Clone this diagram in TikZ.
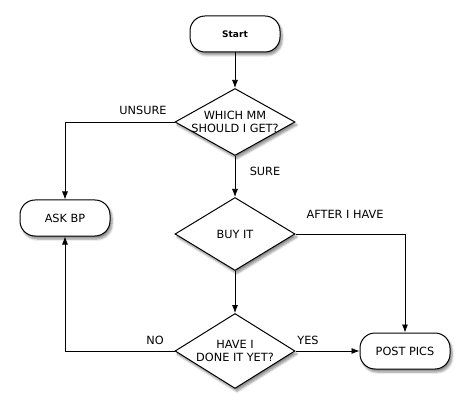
\documentclass[tikz,border=0pt]{standalone}
\usepackage{fontspec}
\setmainfont{DejaVu Sans}
\usetikzlibrary{shapes.geometric,arrows.meta,shadows.blur}

\begin{document}
\begin{tikzpicture}[x=1pt,y=-1pt,font=\fontsize{11.3}{13}\selectfont,
		shade/.style={blur shadow={shadow xshift=2pt,shadow yshift=-3pt,shadow opacity=45,shadow blur steps=6}},
		term/.style={draw,fill=white,rounded corners=15pt,minimum width=90pt,minimum height=36pt,line width=1pt,shade},
		decision/.style={draw,fill=white,diamond,aspect=1.8,minimum width=120pt,minimum height=67pt,inner sep=-2.5pt,align=center,line width=1pt,shade},
		flow/.style={-{Latex[length=8pt,width=6pt]},line width=0.75pt}]
	\useasboundingbox (0,0) rectangle (470,411);
	% boxes
	\node[term,font=\bfseries\fontsize{9}{10}\selectfont] (start) at (235,34) {Start};
	\node[decision] (which) at (235,122) {WHICH MM\\SHOULD I GET?};
	\node[term] (ask) at (65,218) {ASK BP};
	\node[decision,minimum height=73pt] (buy) at (235,234) {BUY IT};
	\node[decision,minimum height=75pt] (done) at (235,351) {HAVE I\\DONE IT YET?};
	\node[term] (post) at (405,351) {POST PICS};
	% labels
	\node (unsure) at (143,110) {UNSURE};
	\node (sure) at (265,171) {SURE};
	\node (after) at (345,214) {AFTER I HAVE};
	\node (no) at (155,340) {NO};
	\node (yes) at (308,340) {YES};
	% arrows
	\draw[flow] (start) -- (which);
	\draw[flow] (which.west) -| (ask);
	\draw[flow] (which) -- (buy);
	\draw[flow] (buy.east) -| (post);
	\draw[flow] (buy) -- (done);
	\draw[flow] (done.west) -| (ask);
	\draw[flow] (done) -- (post);
\end{tikzpicture}
\end{document}
